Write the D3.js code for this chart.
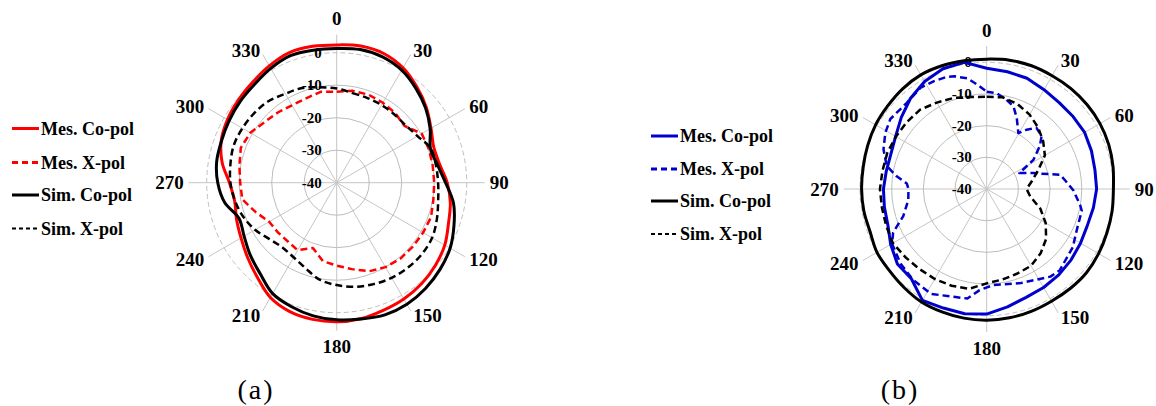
<!DOCTYPE html>
<html><head><meta charset="utf-8">
<script src="https://cdn.jsdelivr.net/npm/d3@7"></script>
<style>body{margin:0;background:#fff} svg{display:block}</style>
</head><body>
<svg id="c" width="1156" height="406"></svg>
<script>
// ---------- axis categories / ticks ----------
const angleTicks = [0,30,60,90,120,150,180,210,240,270,300,330];
const radialTicks = [-40,-30,-20,-10,0];
const seriesNames = ["Mes. Co-pol","Mes. X-pol","Sim. Co-pol","Sim. X-pol"];
const captions = ["(a)","(b)"];

// ---------- chart (a) data ----------
const anglesA = [0,10,20,30,40,50,60,70,80,90,100,110,120,130,140,150,160,170,180,190,200,210,220,230,240,250,260,270,280,290,300,310,320,330,340,350];
const aMesCo = [2.4,2.7,2.3,0.8,-1.6,-4,-6.5,-8.2,-7.8,-6,-4.5,-3.4,-1.6,-0.4,0.6,1.3,1.8,2.5,2.8,2.7,2.2,0.8,-2,-4.2,-6,-7.2,-8.1,-7,-4.2,-2.2,-1.2,-0.5,0.3,1.5,2.6,2.6];
const aMesX  = [-12,-11.3,-11.2,-11.6,-12,-12.8,-9.8,-9.8,-10,-10,-9.8,-9.1,-9.3,-9.4,-9.5,-10,-11,-13,-14.5,-15.5,-18.6,-16,-16.5,-16.3,-16,-13.5,-10.5,-10.3,-9.6,-8.6,-9.3,-11,-11.8,-12.5,-12.4,-11.6];
const aSimCo = [1.3,1.6,1.2,0,-2.1,-4.3,-6.8,-9.3,-8.5,-6.5,-3.5,-1.6,0.3,1.5,2.5,3.2,3.3,2.6,2.2,1.6,0.6,-0.6,-3.4,-5.3,-7.1,-8,-5,-3.4,-2.5,-2.3,-1.8,-1.2,-0.6,0.6,1.6,1.4];
const aSimX  = [-11,-12,-12.3,-12.4,-12.5,-12.4,-11.3,-9.2,-9,-8.8,-8.3,-7.2,-6.1,-5.8,-5.9,-6.2,-6.8,-7.5,-8.5,-9.7,-12,-13.5,-14,-13,-11,-9.4,-8.2,-7.3,-6.8,-6.3,-6.5,-6.8,-7.3,-8.4,-9,-10.2];

// ---------- chart (b) data ----------
const anglesB = [0,10,20,30,40,50,60,70,80,90,100,110,120,130,140,150,160,170,180,190,200,210,220,230,240,250,260,270,280,290,300,310,320,330,340,350];
const bMesCo = [-1.9,-2.4,-2.8,-3.8,-4.4,-4.4,-4.3,-4.8,-5.3,-5.3,-5.8,-6.2,-5.8,-5.2,-4.6,-4.1,-3.6,-2.2,-0.5,0,0,0.6,-3,-3.2,-5,-6.8,-7.2,-7.4,-7.8,-7.8,-6.8,-4.8,-2.6,-0.8,0.4,0.6];
const bSimCo = [1,1.3,1.4,1.3,1.4,1.4,1.3,1,0.5,0,0.2,0.4,0.8,1.1,1,0.9,1.1,1.3,1.4,1.4,1.3,1.2,0.6,0.1,0,-0.8,-0.6,-0.5,-0.4,0,0.5,0.8,1.3,1.6,1.4,1.1];
const bSimX  = [-10.9,-10.6,-11.5,-12.9,-14.7,-16.7,-18.8,-22.7,-25.5,-27.4,-26,-22,-18.5,-15.5,-13.5,-12,-11.6,-11,-10.2,-8,-7.5,-7.2,-7,-6.5,-5.8,-6.2,-6.4,-6.3,-6.6,-6.6,-6.9,-7.1,-7.3,-8.5,-9.4,-10.5];
const bMesXAngles = [0,6,12,18,23,29.5,34,39,46,51,58,64,71,74,79,84,91,100,103,114,124,138,144,160,176,184,190,197,208,219,229,240,245,252,262,270,274,278,283,291,299,306,317,327,334,340,344,350,355];
const bMesX = [-9.3,-9.6,-11,-12.6,-15.7,-19.7,-17.4,-15.1,-15.9,-18.4,-22.6,-28.5,-24.4,-22.4,-16.4,-15,-12.6,-10,-9.2,-8.8,-7.2,-5.5,-5.8,-8.4,-9.6,-8,-4.9,-4.4,-2.5,-3.1,-4,-5.5,-7.4,-12.3,-15,-15.3,-14.7,-11.3,-7.6,-5.1,-3.4,-2.4,-2.9,-1.8,-2.1,-2.4,-3,-4.5,-7];

const RED = "#ff0000", BLUE = "#0000cc", BLACK = "#000000";
const svg = d3.select("#c");
const SERIF = "'Liberation Serif','Times New Roman',serif";

function drawPolar(cfg) {
  const g = svg.append("g").attr("transform", `translate(${cfg.cx},${cfg.cy})`);
  const r = d3.scaleLinear().domain([-40, 0]).range([0, cfg.R]);
  // spokes
  angleTicks.forEach(a => {
    const t = a * Math.PI / 180;
    g.append("line").attr("x1", 0).attr("y1", 0)
      .attr("x2", cfg.spoke * Math.sin(t)).attr("y2", -cfg.spoke * Math.cos(t))
      .attr("stroke", "#c6c6c6").attr("stroke-width", 1);
  });
  // rings
  radialTicks.slice(1).forEach(v => {
    g.append("circle").attr("r", r(v)).attr("fill", "none")
      .attr("stroke", v === 0 ? "#c0c0c0" : "#bdbdbd").attr("stroke-width", 1)
      .attr("stroke-dasharray", v === 0 ? "5,3" : null);
  });
  // radial labels
  radialTicks.forEach(v => {
    g.append("text").attr("x", -15).attr("y", -r(v)).attr("text-anchor", "end")
      .attr("dominant-baseline", "central").attr("font-family", SERIF)
      .attr("font-weight", "bold").attr("font-size", 15).text(v);
  });
  // curves
  cfg.series.forEach(s => {
    const line = d3.lineRadial()
      .angle(d => d[0] * Math.PI / 180).radius(d => r(d[1])).curve(s.curve);
    g.append("path").datum(d3.zip(s.angles, s.values)).attr("d", line)
      .attr("fill", "none").attr("stroke", s.color).attr("stroke-width", s.width)
      .attr("stroke-dasharray", s.dash).attr("stroke-linejoin", "round");
  });
  // angle labels
  angleTicks.forEach(a => {
    const t = a * Math.PI / 180;
    const s = Math.round(Math.sin(t) * 1000) / 1000, c = Math.cos(t);
    const anchor = s > 0 ? "start" : (s < 0 ? "end" : "middle");
    let x = cfg.labR * s, y = -cfg.labR * c;
    if (s === 0) y += (c > 0 ? -11 : 11);
    g.append("text").attr("text-anchor", anchor).attr("dominant-baseline", "central")
      .attr("font-family", SERIF).attr("font-weight", "bold").attr("font-size", 19)
      .attr("x", x).attr("y", y).text(a);
  });
  // legend
  const lg = svg.append("g").attr("transform", `translate(${cfg.lx},0)`);
  cfg.series.forEach((s, i) => {
    const y = cfg.ly[i];
    lg.append("line").attr("x1", 0).attr("x2", 27).attr("y1", y).attr("y2", y)
      .attr("stroke", s.color).attr("stroke-width", s.lw).attr("stroke-dasharray", s.ldash);
    lg.append("text").attr("x", 29).attr("y", y).attr("dominant-baseline", "central")
      .attr("font-family", SERIF).attr("font-weight", "bold").attr("font-size", 18)
      .text(seriesNames[i]);
  });
  svg.append("text").attr("x", cfg.capX).attr("y", 399).attr("text-anchor", "middle")
    .attr("font-family", SERIF).attr("font-size", 28).attr("letter-spacing", 2)
    .text(cfg.caption);
}

drawPolar({
  cx: 336.7, cy: 182.7, R: 130, spoke: 148, labR: 153,
  lx: 12, ly: [128.5, 162.5, 195, 228.5], capX: 256, caption: captions[0],
  series: [
    {angles: anglesA, values: aMesCo, color: RED, width: 3, dash: null, curve: d3.curveCatmullRomClosed, lw: 3, ldash: null},
    {angles: anglesA, values: aMesX, color: RED, width: 2.5, dash: "7,4", curve: d3.curveLinearClosed, lw: 3, ldash: "6,4"},
    {angles: anglesA, values: aSimCo, color: BLACK, width: 3, dash: null, curve: d3.curveCatmullRomClosed, lw: 3, ldash: null},
    {angles: anglesA, values: aSimX, color: BLACK, width: 2.5, dash: "7,4", curve: d3.curveCatmullRomClosed, lw: 2, ldash: "4,3"}
  ]
});

drawPolar({
  cx: 986.7, cy: 189, R: 126.7, spoke: 143, labR: 148,
  lx: 651, ly: [136, 169, 201, 234], capX: 900, caption: captions[1],
  series: [
    {angles: anglesB, values: bMesCo, color: BLUE, width: 3, dash: null, curve: d3.curveLinearClosed, lw: 3, ldash: null},
    {angles: bMesXAngles, values: bMesX, color: BLUE, width: 2.5, dash: "7,4", curve: d3.curveLinearClosed, lw: 3, ldash: "6,4"},
    {angles: anglesB, values: bSimCo, color: BLACK, width: 3, dash: null, curve: d3.curveCatmullRomClosed, lw: 3, ldash: null},
    {angles: anglesB, values: bSimX, color: BLACK, width: 2.5, dash: "7,4", curve: d3.curveLinearClosed, lw: 2, ldash: "4,3"}
  ]
});
</script>
</body></html>
